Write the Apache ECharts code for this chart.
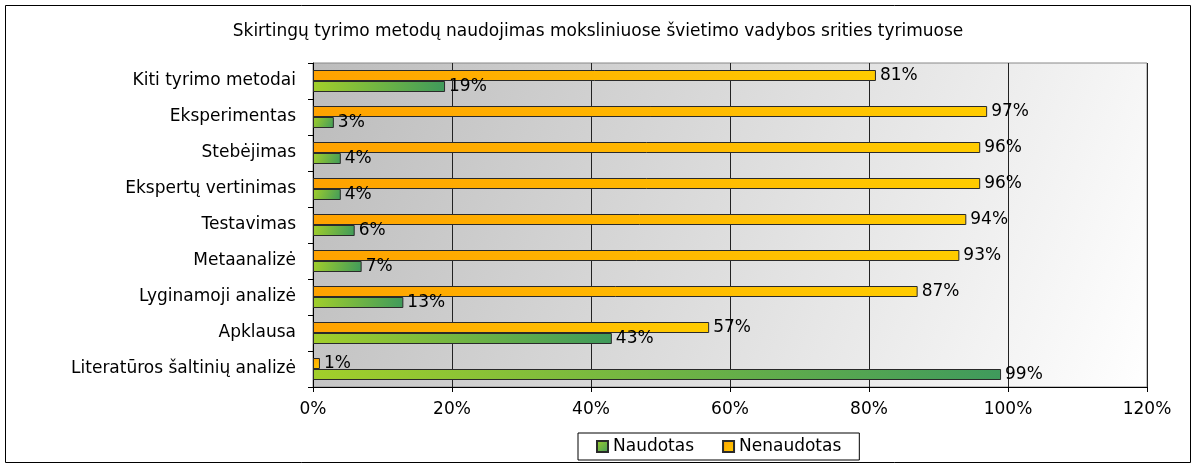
<!DOCTYPE html>
<html>
<head>
<meta charset="utf-8">
<script src="https://cdn.jsdelivr.net/npm/echarts@6/dist/echarts.min.js"></script>
<style>html,body{margin:0;padding:0;background:#fff}#c{width:1196px;height:465px}</style>
</head>
<body>
<div id="c"></div>
<script>
const title = 'Skirtingų tyrimo metodų naudojimas moksliniuose švietimo vadybos srities tyrimuose';
const categories = ['Literatūros šaltinių analizė','Apklausa','Lyginamoji analizė','Metaanalizė','Testavimas','Ekspertų vertinimas','Stebėjimas','Eksperimentas','Kiti tyrimo metodai'];
const naudotas = [99, 43, 13, 7, 6, 4, 4, 3, 19];
const nenaudotas = [1, 57, 87, 93, 94, 96, 96, 97, 81];
const seriesNames = ['Naudotas','Nenaudotas'];

const FONT = 'DejaVu Sans';
const FS = 17;
const chart = echarts.init(document.getElementById('c'));
const lbl = {show:true, position:'right', distance:4, formatter:'{c}%', color:'#000', fontFamily:FONT, fontSize:FS};
chart.setOption({
  animation:false,
  backgroundColor:'#fff',
  title:{text:title, left:'center', top:18, textStyle:{fontFamily:FONT, fontSize:FS, fontWeight:'normal', color:'#000'}},
  graphic:[{type:'rect', shape:{x:5.5,y:5.5,width:1185,height:457}, style:{fill:'none', stroke:'#000', lineWidth:1}, z:-1}],
  grid:{left:313, right:49, top:63, bottom:78, show:true, borderColor:'#888', borderWidth:1,
    backgroundColor:{type:'linear',x:0,y:0,x2:1,y2:1,colorStops:[{offset:0,color:'#bcbcbc'},{offset:1,color:'#ffffff'}]}},
  legend:{data:seriesNames, left:578, top:433, orient:'horizontal', borderColor:'#000', borderWidth:1, padding:[5,18], itemGap:28,
    itemWidth:11, itemHeight:11, icon:'rect', textStyle:{fontFamily:FONT, fontSize:FS, color:'#000'}},
  xAxis:{type:'value', min:0, max:120, interval:20,
    axisLine:{show:true, lineStyle:{color:'#000'}}, axisTick:{show:true, length:5, lineStyle:{color:'#000'}},
    splitLine:{show:true, lineStyle:{color:'#222', width:1}},
    axisLabel:{formatter:'{value}%', margin:14, color:'#000', fontFamily:FONT, fontSize:FS}},
  yAxis:{type:'category', data:categories,
    axisLine:{show:true, lineStyle:{color:'#000'}}, axisTick:{show:true, length:5, lineStyle:{color:'#000'}},
    axisLabel:{margin:17, color:'#000', fontFamily:FONT, fontSize:FS}},
  series:[
    {name:seriesNames[1], type:'bar', data:nenaudotas, barWidth:11, barGap:'0%',
      itemStyle:{borderColor:'#2a2a2a', borderWidth:1,
        color:{type:'linear',x:0,y:0,x2:1,y2:1,colorStops:[{offset:0,color:'#ffa200'},{offset:1,color:'#ffcc00'}]}},
      label:lbl},
    {name:seriesNames[0], type:'bar', data:naudotas, barWidth:11, barGap:'0%',
      itemStyle:{borderColor:'#2a2a2a', borderWidth:1,
        color:{type:'linear',x:0,y:0,x2:1,y2:1,colorStops:[{offset:0,color:'#a2cf2a'},{offset:1,color:'#3f9a5c'}]}},
      label:lbl}
  ]
});
</script>
</body>
</html>
